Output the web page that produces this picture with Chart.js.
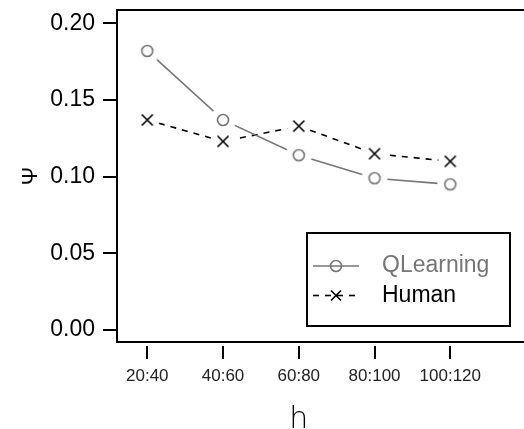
<!DOCTYPE html>
<html lang="en">
<head>
<meta charset="UTF-8">
<title>QLearning vs Human</title>
<script src="https://cdn.jsdelivr.net/npm/chart.js"></script>
<style>
  html, body { margin: 0; padding: 0; background: #fff; overflow: hidden; }
  #wrap { width: 524px; height: 429px; position: relative; }
</style>
</head>
<body>
<div id="wrap"><canvas id="psiChart"></canvas></div>
<script>
const categories = ['20:40', '40:60', '60:80', '80:100', '100:120'];
const qlearning = [0.182, 0.137, 0.114, 0.099, 0.095];
const human = [0.137, 0.123, 0.133, 0.115, 0.110];
const yTicks = [0.00, 0.05, 0.10, 0.15, 0.20];

const grey = '#767676';
const fontFamily = "'Liberation Sans', Arial, sans-serif";

// point markers drawn on a small canvas, with a white halo so the line stops short of the point
function makeMarker(kind, color, size, halo) {
    const c = document.createElement('canvas');
    c.width = c.height = Math.ceil(halo * 2 + 2);
    const ctx = c.getContext('2d');
    const m = c.width / 2;
    ctx.fillStyle = '#fff';
    ctx.beginPath();
    ctx.arc(m, m, halo, 0, Math.PI * 2);
    ctx.fill();
    drawMarker(ctx, kind, m, m, size, color, true);
    return c;
}

function drawMarker(ctx, kind, x, y, size, color, fill) {
    ctx.save();
    ctx.strokeStyle = color;
    ctx.lineWidth = 1.6;
    ctx.setLineDash([]);
    ctx.beginPath();
    if (kind === 'circle') {
        ctx.arc(x, y, size, 0, Math.PI * 2);
        if (fill) { ctx.fillStyle = '#fff'; ctx.fill(); }
    } else {
        ctx.moveTo(x - size, y - size); ctx.lineTo(x + size, y + size);
        ctx.moveTo(x - size, y + size); ctx.lineTo(x + size, y - size);
    }
    ctx.stroke();
    ctx.restore();
}

const toPoints = arr => arr.map((v, i) => ({ x: i, y: v }));

// keep the plot box fixed: no extra room reserved for tick labels
function fixBox(size) {
    return s => {
        if (s.isHorizontal()) s.height = size; else s.width = size;
        s.paddingTop = s.paddingBottom = s.paddingLeft = s.paddingRight = 0;
    };
}

// top edge of the box, the "h" axis label and the boxed legend
const decorPlugin = {
    id: 'decor',
    afterDraw(chart, args, opts) {
        const ctx = chart.ctx;
        const area = chart.chartArea;
        const xs = chart.scales.x;

        ctx.save();
        ctx.strokeStyle = '#000';
        ctx.lineWidth = 2;
        ctx.beginPath();
        ctx.moveTo(area.left - 1, area.top);
        ctx.lineTo(area.right, area.top);
        ctx.stroke();

        // x axis title, centred under the categories
        const cx = (xs.getPixelForValue(0) + xs.getPixelForValue(categories.length - 1)) / 2;
        ctx.fillStyle = '#000';
        ctx.font = "200 30px 'DejaVu Sans', sans-serif";
        ctx.textAlign = 'center';
        ctx.textBaseline = 'alphabetic';
        ctx.fillText(opts.xTitle, cx, chart.height - 1);

        // legend
        const L = opts.legend;
        ctx.fillStyle = '#fff';
        ctx.fillRect(L.x, L.y, L.w, L.h);
        ctx.strokeRect(L.x, L.y, L.w, L.h);
        ctx.font = L.fontSize + 'px ' + fontFamily;
        ctx.textAlign = 'left';
        ctx.textBaseline = 'middle';
        chart.data.datasets.forEach((ds, i) => {
            const y = L.y + L.firstRow + i * L.rowH;
            const x0 = L.x + L.sampleX;
            const x1 = x0 + L.sampleW;
            ctx.strokeStyle = ds.borderColor;
            ctx.lineWidth = ds.borderWidth;
            ctx.setLineDash(ds.borderDash || []);
            ctx.beginPath();
            ctx.moveTo(x0, y);
            ctx.lineTo(x1, y);
            ctx.stroke();
            ctx.setLineDash([]);
            drawMarker(ctx, ds.marker, (x0 + x1) / 2, y, ds.markerSize, ds.borderColor, false);
            ctx.fillStyle = ds.textColor;
            ctx.fillText(ds.label, L.x + L.textX, y);
        });
        ctx.restore();
    }
};

new Chart(document.getElementById('psiChart'), {
    type: 'line',
    data: {
        datasets: [
            {
                label: 'QLearning',
                data: toPoints(qlearning),
                borderColor: grey,
                borderWidth: 1.6,
                pointStyle: makeMarker('circle', grey, 5.5, 13),
                pointRadius: 5,
                marker: 'circle',
                markerSize: 5.5,
                textColor: grey
            },
            {
                label: 'Human',
                data: toPoints(human),
                borderColor: '#000',
                borderWidth: 1.6,
                borderDash: [6, 6],
                pointStyle: makeMarker('cross', '#000', 5.5, 12),
                pointRadius: 5,
                marker: 'cross',
                markerSize: 5,
                textColor: '#000'
            }
        ]
    },
    options: {
        responsive: true,
        maintainAspectRatio: false,
        animation: false,
        layout: { autoPadding: false, padding: { top: 10, right: 0, bottom: 0, left: 0 } },
        elements: { line: { tension: 0 } },
        font: { family: fontFamily },
        scales: {
            x: {
                type: 'linear',
                min: -0.40,
                max: 4.973,
                afterBuildTicks: s => { s.ticks = categories.map((c, i) => ({ value: i })); },
                afterFit: fixBox(87),
                ticks: {
                    callback: v => categories[v],
                    font: { family: fontFamily, size: 17 },
                    color: '#222',
                    padding: 7,
                    maxRotation: 0,
                    autoSkip: false
                },
                grid: {
                    drawOnChartArea: false,
                    tickLength: 17,
                    color: '#000',
                    lineWidth: 2,
                    tickBorderDash: [0, 3, 20]
                },
                border: { display: true, color: '#000', width: 2 }
            },
            y: {
                min: -0.0078,
                max: 0.2087,
                afterBuildTicks: s => { s.ticks = yTicks.map(v => ({ value: v })); },
                afterFit: fixBox(117),
                ticks: {
                    callback: v => v.toFixed(2),
                    font: { family: fontFamily, size: 23 },
                    color: '#000',
                    padding: 8
                },
                grid: {
                    drawOnChartArea: false,
                    tickLength: 14,
                    color: '#000',
                    lineWidth: 2
                },
                border: { display: true, color: '#000', width: 2 },
                title: {
                    display: true,
                    text: 'Ψ',
                    color: '#000',
                    font: { family: fontFamily, size: 22 },
                    padding: { top: 18, bottom: 0 }
                }
            }
        },
        plugins: {
            legend: { display: false },
            tooltip: { enabled: false },
            decor: {
                xTitle: 'h',
                legend: { x: 307, y: 233, w: 203, h: 93, firstRow: 33, rowH: 29.5, sampleX: 6, sampleW: 46, textX: 75, fontSize: 23 }
            }
        }
    },
    plugins: [decorPlugin]
});
</script>
</body>
</html>
